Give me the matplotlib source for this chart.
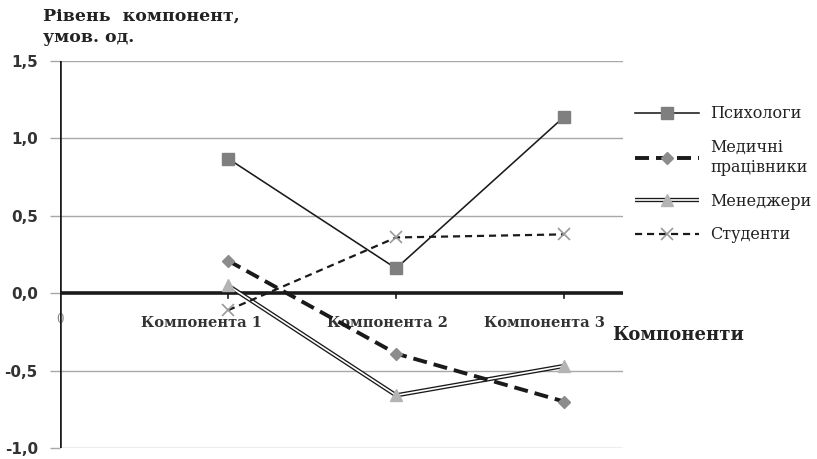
import matplotlib.pyplot as plt
from matplotlib.legend_handler import HandlerTuple

# Component scores per group
components = ['Компонента 1', 'Компонента 2', 'Компонента 3']
x_pos = [1, 2, 3]
psychologists = [0.87, 0.16, 1.14]
medics = [0.21, -0.39, -0.70]
managers = [0.05, -0.66, -0.47]
students = [-0.11, 0.36, 0.38]

y_ticks = [-1.0, -0.5, 0.0, 0.5, 1.0, 1.5]

# category labels sit a little left of their ticks
label_shift = [-0.16, -0.05, -0.12]

SERIF = ['DejaVu Serif']
SANS = ['DejaVu Sans']

fig = plt.figure(figsize=(8.17, 4.59), dpi=100)
ax = fig.add_axes([60 / 817, 11 / 459, 563 / 817, 387 / 459])
ax.set_xlim(0, 3.35)
ax.set_ylim(-1.0, 1.5)

# gridlines (except the zero line, which is the x axis)
for yv in y_ticks:
    if yv != 0:
        ax.axhline(yv, color='#a8a8a8', lw=1.0, zorder=1)
ax.axhline(0, color='#1a1a1a', lw=2.6, zorder=2)
ax.axvline(0, color='#1a1a1a', lw=2.6, zorder=2)

for side in ['top', 'right', 'bottom', 'left']:
    ax.spines[side].set_visible(False)

ax.set_yticks(y_ticks)
ax.set_yticklabels([f'{v:.1f}'.replace('.', ',') for v in y_ticks],
                   fontsize=11, fontweight='bold', family=SANS, color='#333333')
ax.tick_params(axis='y', length=7, width=1, color='#a8a8a8', pad=9)
ax.set_xticks([])

# category ticks and labels hanging off the zero line
for xp, name, dx in zip(x_pos, components, label_shift):
    ax.plot([xp, xp], [0, -0.03], color='#1a1a1a', lw=1.2, zorder=2, clip_on=False)
    ax.text(xp + dx, -0.19, name, ha='center', va='center', fontsize=10.5,
            fontweight='bold', family=SERIF, color='#333333')
ax.text(0, -0.17, '0', ha='center', va='center', fontsize=8.5, family=SERIF,
        color='#888888', zorder=1)
ax.text(3.68, -0.27, 'Компоненти', ha='center', va='center', fontsize=13,
        fontweight='bold', family=SERIF, color='#222222', clip_on=False)

fig.text(43 / 817, 1 - 16 / 459, 'Рівень  компонент,', ha='left', va='center',
         fontsize=12.5, fontweight='bold', family=SERIF, color='#222222')
fig.text(43 / 817, 1 - 38 / 459, 'умов. од.', ha='left', va='center',
         fontsize=12.5, fontweight='bold', family=SERIF, color='#222222')

# series
l_psy, = ax.plot(x_pos, psychologists, color='#1a1a1a', lw=1.15, marker='s',
                 ms=8.5, mfc='#7f7f7f', mec='#7f7f7f', zorder=5)
l_med, = ax.plot(x_pos, medics, color='#1a1a1a', lw=2.8, ls=(0, (3.6, 1.8)),
                 marker='D', ms=6.5, mfc='#8c8c8c', mec='#8c8c8c', zorder=4)
l_man_out, = ax.plot(x_pos, managers, color='#1a1a1a', lw=3.1, zorder=3,
                     solid_capstyle='butt')
l_man_in, = ax.plot(x_pos, managers, color='white', lw=1.2, marker='^',
                    ms=8, mfc='#b4b4b4', mec='#b4b4b4', zorder=3.5,
                    solid_capstyle='butt')
l_stu, = ax.plot(x_pos, students, color='#1a1a1a', lw=1.6, ls=(0, (3.2, 2.2)),
                 marker='x', ms=8, mew=1.2, mec='#9a9a9a', zorder=4)

leg = fig.legend([l_psy, l_med, (l_man_out, l_man_in), l_stu],
                 ['Психологи', 'Медичні\nпрацівники', 'Менеджери', 'Студенти'],
                 handler_map={tuple: HandlerTuple(ndivide=1)},
                 loc='upper left', bbox_to_anchor=(621 / 817, 1 - 91 / 459),
                 frameon=False, handlelength=4.0, handletextpad=0.7,
                 labelspacing=1.05, prop={'family': SERIF, 'size': 11.5})
for t in leg.get_texts():
    t.set_color('#222222')

fig.savefig('out.png', dpi=100)
